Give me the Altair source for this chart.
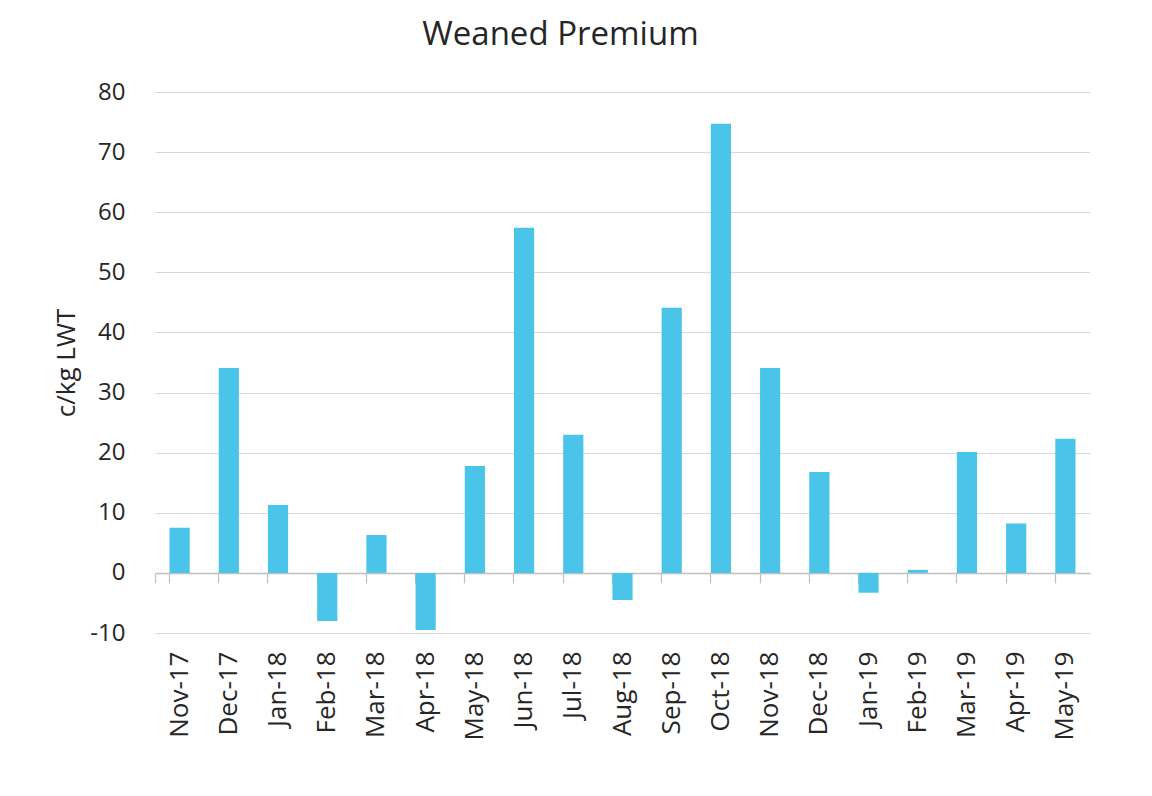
import altair as alt
import pandas as pd

months = ["Nov-17", "Dec-17", "Jan-18", "Feb-18", "Mar-18", "Apr-18", "May-18",
          "Jun-18", "Jul-18", "Aug-18", "Sep-18", "Oct-18", "Nov-18", "Dec-18",
          "Jan-19", "Feb-19", "Mar-19", "Apr-19", "May-19"]
premium = [7.5, 34.1, 11.3, -8.0, 6.3, -9.5, 17.8, 57.4, 23.0, -4.5, 44.1, 74.7,
           34.1, 16.8, -3.3, 0.5, 20.1, 8.2, 22.3]
y_ticks = [-10, 0, 10, 20, 30, 40, 50, 60, 70, 80]

df = pd.DataFrame({"month": months, "premium": premium})

W, H = 935, 541
FONT = "Open Sans"

xscale = alt.Scale(domain=months, paddingInner=0.59, paddingOuter=0.295)
yscale = alt.Scale(domain=[-10, 80], nice=False, zero=False)


def y_enc():
    return alt.Y("premium:Q", scale=yscale, title="c/kg LWT",
                 axis=alt.Axis(values=y_ticks, grid=True, gridColor="#d9d9d9", gridWidth=1.2,
                               domain=False, ticks=False, labelFontSize=24, labelColor="#262626",
                               labelFont=FONT, labelPadding=30, labelExpr="'' + datum.value",
                               titleFont=FONT, titleFontSize=26,
                               titleFontWeight="normal", titleColor="#262626", titlePadding=10))


bars = alt.Chart(df).mark_bar(color="#4BC4E9").encode(
    x=alt.X("month:N", scale=xscale, sort=months, title=None,
            axis=alt.Axis(labelAngle=-90, labelAlign="right", labelBaseline="middle",
                          labelFontSize=26, labelColor="#262626", labelFont=FONT,
                          labelPadding=18, domain=False, ticks=False, grid=False)),
    y=y_enc(),
)

zero_axis = alt.Chart(df).mark_bar(opacity=0).encode(
    x=alt.X("month:N", scale=xscale, sort=months, title=None,
            axis=alt.Axis(orient="bottom", offset=-(H * 10 / 90), labels=False,
                          domain=True, domainColor="#bfbfbf", domainWidth=1.5,
                          ticks=True, tickColor="#bfbfbf", tickSize=10, tickWidth=1.2,
                          bandPosition=0, tickExtra=True, grid=False)),
    y=y_enc(),
)

chart = alt.layer(bars, zero_axis).resolve_axis(x="independent").properties(
    width=W, height=H,
    view=alt.ViewBackground(stroke="transparent", strokeWidth=0),
    title=alt.TitleParams("Weaned Premium", font=FONT, fontSize=33, fontWeight="normal",
                          color="#262626", anchor="middle", dx=-62, offset=28),
    padding={"left": 147, "top": 84, "right": 40, "bottom": 160},
    autosize=alt.AutoSizeParams(type="none"),
).configure_view(stroke="transparent", strokeWidth=0).configure_axis(
    domain=False
).configure(background="white")

chart.save("out.html", embed_options={"renderer": "svg", "actions": False})
